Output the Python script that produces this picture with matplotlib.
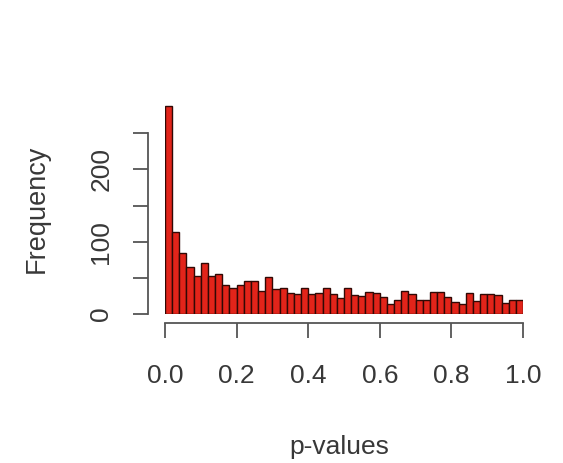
import numpy as np
import matplotlib
matplotlib.use("Agg")
import matplotlib.pyplot as plt

plt.rcParams['font.family'] = ['Liberation Sans', 'DejaVu Sans']

# Histogram of p-values: 50 bins of width 0.02 on [0, 1]
bin_edges = np.linspace(0.0, 1.0, 51)
counts = [288, 114, 84, 65, 52, 70, 52, 55, 40, 36,
          40, 46, 46, 32, 51, 34, 36, 29, 28, 36,
          28, 29, 36, 28, 22, 36, 26, 25, 30, 29,
          24, 14, 19, 32, 27, 19, 19, 30, 30, 24,
          17, 14, 29, 18, 28, 28, 26, 15, 20, 19]
x_ticks = [0.0, 0.2, 0.4, 0.6, 0.8, 1.0]
x_tick_labels = ["0.0", "0.2", "0.4", "0.6", "0.8", "1.0"]
y_ticks = [0, 50, 100, 150, 200, 250]
y_tick_labels = ["0", "", "100", "", "200", ""]

W, H = 563, 463
fig = plt.figure(figsize=(W / 100, H / 100), dpi=100)
left, right = 165, 523
bottom, top = 314, 97
ax = fig.add_axes([left / W, 1 - bottom / H, (right - left) / W, (bottom - top) / H])

ax.bar(bin_edges[:-1], counts, width=np.diff(bin_edges), align='edge',
       color='#e2241a', edgecolor='#300905', linewidth=1.0)

ax.set_xlim(0, 1)
ax.set_ylim(0, 300)

axis_col = '#555555'
text_col = '#383838'
for s in ('top', 'right'):
    ax.spines[s].set_visible(False)
ax.spines['left'].set_position(('outward', 12.2))
ax.spines['left'].set_bounds(0, 250)
ax.spines['bottom'].set_position(('outward', 6.3))
ax.spines['bottom'].set_bounds(0, 1)
for s in ('left', 'bottom'):
    ax.spines[s].set_color(axis_col)
    ax.spines[s].set_linewidth(1.3)

ax.set_xticks(x_ticks)
ax.set_xticklabels(x_tick_labels)
ax.set_yticks(y_ticks)
ax.set_yticklabels(y_tick_labels, rotation=90, va='center')
ax.tick_params(axis='both', length=11, width=1.3, color=axis_col,
               labelsize=19, labelcolor=text_col)
ax.tick_params(axis='x', pad=19)
ax.tick_params(axis='y', pad=14)

fig.text(339 / W, 1 - 447 / H, "p-values", ha='center', va='center',
         fontsize=19, color=text_col)
fig.text(37 / W, 1 - 209 / H, "Frequency", ha='center', va='center',
         rotation=90, fontsize=19.5, color=text_col)

fig.savefig("out.png", dpi=100, facecolor='white')
